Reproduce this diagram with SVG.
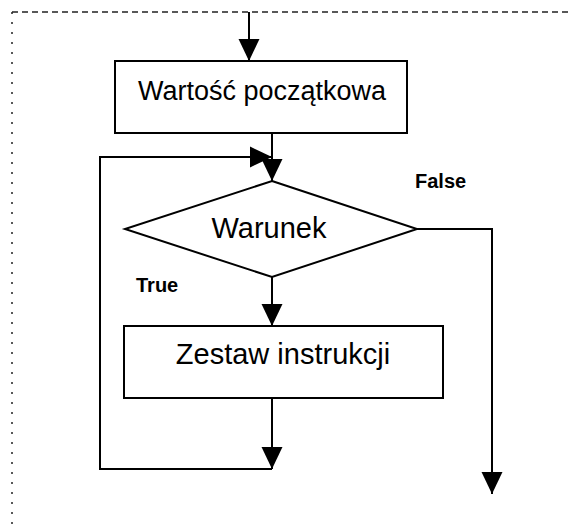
<svg xmlns="http://www.w3.org/2000/svg" width="569" height="527" viewBox="0 0 569 527">
<defs>
<marker id="arr" markerUnits="userSpaceOnUse" markerWidth="22" markerHeight="22" viewBox="0 0 21 20" refX="21" refY="10" orient="auto">
<path d="M0,0 L21,10 L0,20 Z" fill="#000"/>
</marker>
<style>
.n{fill:#fff;stroke:#000;stroke-width:2}
.c{fill:none;stroke:#000;stroke-width:2}
.t{font-family:"Liberation Sans",Arial,sans-serif;font-size:29px;fill:#000;text-anchor:middle}
.l{font-family:"Liberation Sans",Arial,sans-serif;font-size:20px;font-weight:bold;fill:#000}
.frame{fill:none;stroke:#222;stroke-width:1.5}
</style>
</defs>
<rect width="569" height="527" fill="#fff"/>
<g id="frame">
<line class="frame" x1="12" y1="12" x2="569" y2="12" stroke-dasharray="6 4"/>
<line class="frame" x1="12" y1="12" x2="12" y2="527" stroke-dasharray="2 8" stroke-width="2"/>
</g>
<g id="connectors">
<line class="c" x1="249" y1="12" x2="249" y2="61" marker-end="url(#arr)"/>
<line class="c" x1="272" y1="133" x2="272" y2="181" marker-end="url(#arr)"/>
<polyline class="c" points="272,469 100,469 100,157 272,157" marker-end="url(#arr)"/>
<line class="c" x1="272" y1="277" x2="272" y2="326" marker-end="url(#arr)"/>
<line class="c" x1="272" y1="398" x2="272" y2="469" marker-end="url(#arr)"/>
<polyline class="c" points="417,229 492,229 492,494" marker-end="url(#arr)"/>
<text class="l" x="415" y="188">False</text>
<text class="l" x="136" y="292">True</text>
</g>
<g id="start">
<rect class="n" x="115" y="61" width="292" height="72"/>
<text class="t" x="262" y="100" style="font-size:27px">Wartość początkowa</text>
</g>
<g id="condition">
<polygon class="n" points="272,181 417,229 272,277 125,229"/>
<text class="t" x="269" y="238">Warunek</text>
</g>
<g id="body">
<rect class="n" x="124" y="326" width="319" height="72"/>
<text class="t" x="283" y="364">Zestaw instrukcji</text>
</g>
</svg>
